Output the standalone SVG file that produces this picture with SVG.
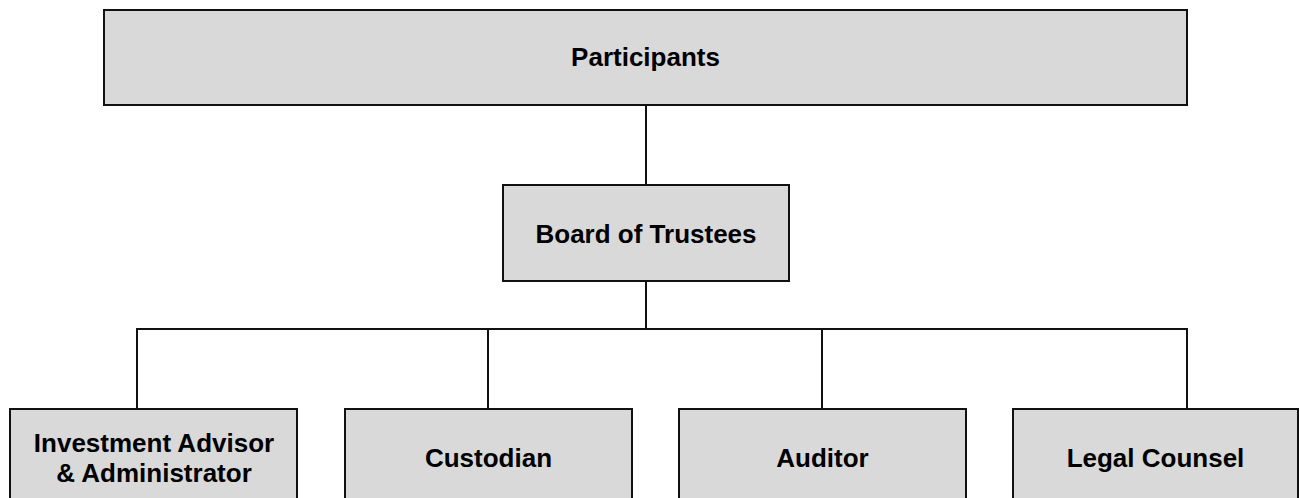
<svg xmlns="http://www.w3.org/2000/svg" width="1299" height="498" viewBox="0 0 1299 498">
<style>
.box{fill:#d9d9d9;stroke:#111;stroke-width:2}
.lbl{font-family:"Liberation Sans",Arial,sans-serif;font-weight:bold;font-size:26px;fill:#000;text-anchor:middle}
.conn{stroke:#111;stroke-width:2;fill:none}
</style>
<rect width="1299" height="498" fill="#fff"/>
<g id="connectors">
<line class="conn" x1="646" y1="105" x2="646" y2="185"/>
<line class="conn" x1="646" y1="281" x2="646" y2="329"/>
<polyline class="conn" points="137,409 137,329 1187,329 1187,409"/>
<line class="conn" x1="488" y1="329" x2="488" y2="409"/>
<line class="conn" x1="822" y1="329" x2="822" y2="409"/>
</g>
<g id="participants">
<rect class="box" x="104" y="10" width="1083" height="95"/>
<text class="lbl" x="645.5" y="66">Participants</text>
</g>
<g id="board">
<rect class="box" x="503" y="185" width="286" height="96"/>
<text class="lbl" x="646" y="243">Board of Trustees</text>
</g>
<g id="investment">
<rect class="box" x="10" y="409" width="287" height="100"/>
<text class="lbl" x="154" y="452">Investment Advisor</text>
<text class="lbl" x="154" y="482">&amp; Administrator</text>
</g>
<g id="custodian">
<rect class="box" x="345" y="409" width="287" height="100"/>
<text class="lbl" x="488.5" y="467">Custodian</text>
</g>
<g id="auditor">
<rect class="box" x="679" y="409" width="287" height="100"/>
<text class="lbl" x="822.5" y="467">Auditor</text>
</g>
<g id="legal">
<rect class="box" x="1013" y="409" width="285" height="100"/>
<text class="lbl" x="1155.5" y="467">Legal Counsel</text>
</g>
</svg>
